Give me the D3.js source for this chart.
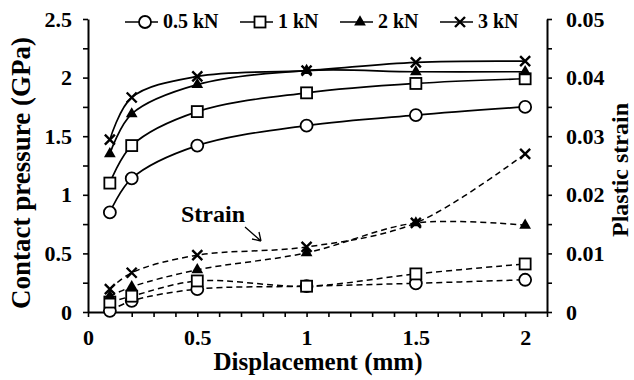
<!DOCTYPE html>
<html>
<head>
<meta charset="utf-8">
<script src="https://cdn.jsdelivr.net/npm/d3@7"></script>
<style>
  body { margin: 0; background: #fff; }
  svg text { font-family: "Liberation Serif", "Times New Roman", serif; font-weight: bold; fill: #000; }
</style>
</head>
<body>
<svg id="chart" width="634" height="380"></svg>
<script>
// displacement (mm)
const displacement = [0.1, 0.2, 0.5, 1, 1.5, 2];
const loads = ["0.5 kN", "1 kN", "2 kN", "3 kN"];
const markers = ["circle", "square", "triangle", "cross"];

// contact pressure (GPa), left axis
const pressure05 = [0.85, 1.14, 1.42, 1.59, 1.68, 1.75];
const pressure1 = [1.10, 1.42, 1.71, 1.87, 1.95, 1.99];
const pressure2 = [1.35, 1.69, 1.94, 2.06, 2.05, 2.05];
const pressure3 = [1.47, 1.83, 2.01, 2.06, 2.13, 2.14];

// plastic strain, right axis
const strain05 = [0.0002, 0.0019, 0.0039, 0.0044, 0.0049, 0.0055];
const strain1 = [0.0017, 0.0027, 0.0053, 0.0044, 0.0065, 0.0082];
const strain2 = [0.0027, 0.0043, 0.0072, 0.0101, 0.0152, 0.0148];
const strain3 = [0.0039, 0.0067, 0.0097, 0.0111, 0.0152, 0.0270];

const xTicks = [0, 0.5, 1, 1.5, 2];
const yLeftTicks = [0, 0.5, 1, 1.5, 2, 2.5];
const yRightTicks = [0, 0.01, 0.02, 0.03, 0.04, 0.05];

const pressureSeries = [pressure05, pressure1, pressure2, pressure3];
const strainSeries = [strain05, strain1, strain2, strain3];

const svg = d3.select("#chart");
const plotLeft = 88, plotRight = 547, plotTop = 19, plotBottom = 312;

const x = d3.scaleLinear().domain([0, 2.1]).range([plotLeft, plotRight]);
const yL = d3.scaleLinear().domain([0, 2.5]).range([plotBottom, plotTop]);
const yR = d3.scaleLinear().domain([0, 0.05]).range([plotBottom, plotTop]);

const fmt = v => (Math.round(v * 1000) / 1000).toString();

// x axis
const xMinor = d3.range(0, 22).map(i => i / 10);
const gx = svg.append("g").attr("transform", `translate(0,${plotBottom})`)
  .call(d3.axisBottom(x).tickValues(xMinor).tickSize(5).tickSizeOuter(0)
    .tickFormat(v => xTicks.some(t => Math.abs(t - v) < 1e-9) ? fmt(v) : ""));
gx.selectAll("text").attr("y", 33).attr("dy", null).style("font-size", "22px");

// left axis
const yLMinor = d3.range(0, 11).map(i => i * 0.25);
const gyl = svg.append("g").attr("transform", `translate(${plotLeft},0)`)
  .call(d3.axisLeft(yL).tickValues(yLMinor).tickSize(5).tickSizeOuter(0).tickPadding(11)
    .tickFormat(v => yLeftTicks.some(t => Math.abs(t - v) < 1e-9) ? fmt(v) : ""));
gyl.selectAll("text").style("font-size", "22px");

// right axis
const yRMinor = d3.range(0, 11).map(i => i * 0.005);
const gyr = svg.append("g").attr("transform", `translate(${plotRight},0)`)
  .call(d3.axisRight(yR).tickValues(yRMinor).tickSize(5).tickSizeOuter(0).tickPadding(14)
    .tickFormat(v => yRightTicks.some(t => Math.abs(t - v) < 1e-9) ? fmt(v) : ""));
gyr.selectAll("text").style("font-size", "22px");

svg.selectAll(".domain").attr("stroke", "#000").attr("stroke-width", 2);
svg.selectAll(".tick line").attr("stroke", "#000").attr("stroke-width", 1.6);

// axis titles
svg.append("text").attr("x", 318).attr("y", 370).attr("text-anchor", "middle")
  .style("font-size", "25px").text("Displacement (mm)");
svg.append("text").attr("transform", "translate(30,173) rotate(-90)").attr("text-anchor", "middle")
  .style("font-size", "27px").text("Contact pressure (GPa)");
svg.append("text").attr("transform", "translate(628,170) rotate(-90)").attr("text-anchor", "middle")
  .style("font-size", "24px").text("Plastic strain");

// lines
const curve = d3.curveCatmullRom.alpha(0.5);
const lineL = d3.line().x((d, i) => x(displacement[i])).y(d => yL(d)).curve(curve);
const lineR = d3.line().x((d, i) => x(displacement[i])).y(d => yR(d)).curve(curve);

pressureSeries.forEach(s => {
  svg.append("path").attr("d", lineL(s)).attr("fill", "none")
    .attr("stroke", "#000").attr("stroke-width", 1.7);
});
strainSeries.forEach(s => {
  svg.append("path").attr("d", lineR(s)).attr("fill", "none")
    .attr("stroke", "#000").attr("stroke-width", 1.5).attr("stroke-dasharray", "6,4");
});

function drawMarker(g, type, cx, cy) {
  if (type === "circle") {
    g.append("circle").attr("cx", cx).attr("cy", cy).attr("r", 6)
      .attr("fill", "#fff").attr("stroke", "#000").attr("stroke-width", 1.8);
  } else if (type === "square") {
    g.append("rect").attr("x", cx - 5.5).attr("y", cy - 5.5).attr("width", 11).attr("height", 11)
      .attr("fill", "#fff").attr("stroke", "#000").attr("stroke-width", 1.8);
  } else if (type === "triangle") {
    g.append("path").attr("transform", `translate(${cx},${cy})`)
      .attr("d", d3.symbol().type(d3.symbolTriangle).size(60)()).attr("fill", "#000");
  } else {
    const r = 5;
    g.append("path")
      .attr("d", `M${cx - r},${cy - r}L${cx + r},${cy + r}M${cx - r},${cy + r}L${cx + r},${cy - r}`)
      .attr("stroke", "#000").attr("stroke-width", 2.4).attr("fill", "none");
  }
}

const gm = svg.append("g");
strainSeries.forEach((s, k) => s.forEach((v, i) => drawMarker(gm, markers[k], x(displacement[i]), yR(v))));
pressureSeries.forEach((s, k) => s.forEach((v, i) => drawMarker(gm, markers[k], x(displacement[i]), yL(v))));

// legend
const legendX = [125, 240, 340, 440];
const lg = svg.append("g");
loads.forEach((name, k) => {
  const sx = legendX[k], cy = 22;
  lg.append("line").attr("x1", sx).attr("x2", sx + 33).attr("y1", cy).attr("y2", cy)
    .attr("stroke", "#000").attr("stroke-width", 1.7);
  drawMarker(lg, markers[k], sx + 20, cy);
  lg.append("text").attr("x", sx + 38).attr("y", 28).style("font-size", "20px").text(name);
});

// strain annotation
svg.append("text").attr("x", 181).attr("y", 222).style("font-size", "24px").text("Strain");
svg.append("path").attr("d", "M245,227L261,241M261,241L252,239M261,241L259,232")
  .attr("stroke", "#000").attr("stroke-width", 1.3).attr("fill", "none");
</script>
</body>
</html>
